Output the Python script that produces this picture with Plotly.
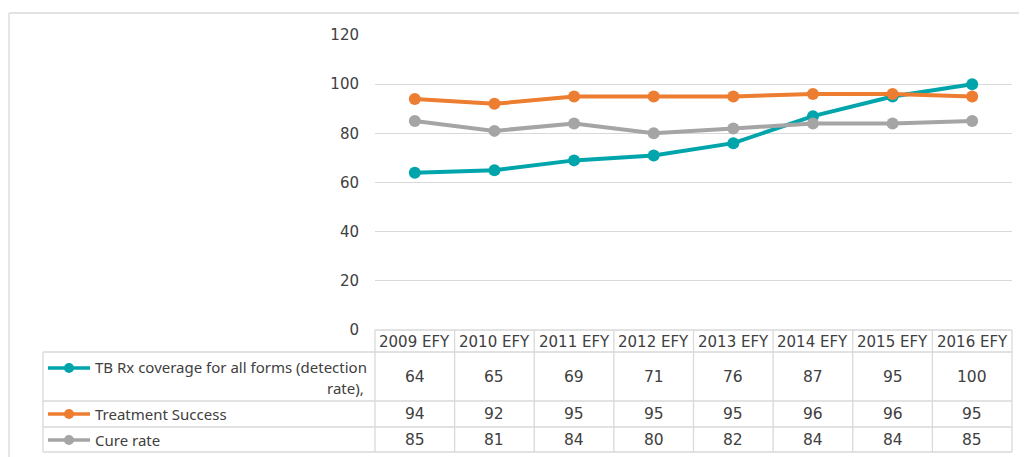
import plotly.graph_objects as go

categories = ["2009 EFY", "2010 EFY", "2011 EFY", "2012 EFY", "2013 EFY", "2014 EFY", "2015 EFY", "2016 EFY"]
detection = [64, 65, 69, 71, 76, 87, 95, 100]
success = [94, 92, 95, 95, 95, 96, 96, 95]
cure = [85, 81, 84, 80, 82, 84, 84, 85]
series_names = ["TB Rx coverage for all forms (detection rate),", "Treatment Success", "Cure rate"]
series_values = [detection, success, cure]
colors = ["#00A5AC", "#ED7D31", "#A5A5A5"]
y_ticks = [0, 20, 40, 60, 80, 100, 120]

OFF = 8  # page body margin
W, H = 1027 - OFF, 457 - OFF
L, R, T, B = 375, 1012, 35, 330  # in screenshot pixels
PW, PH = R - L, B - T

def px(x):
    return (x - L) / PW

def py(y):
    return (B - y) / PH

GRID = "#D9D9D9"
TXT = "#404040"
FONT = "DejaVu Sans"

fig = go.Figure()
for name, vals, c in zip(series_names, series_values, colors):
    fig.add_trace(go.Scatter(
        x=categories, y=vals, mode="lines+markers", name=name,
        line=dict(color=c, width=4), marker=dict(color=c, size=12),
        showlegend=False, cliponaxis=False,
    ))

shapes = []
anns = []

def hline(x0, x1, y):
    shapes.append(dict(type="line", xref="paper", yref="paper", x0=px(x0), x1=px(x1),
                       y0=py(y), y1=py(y), line=dict(color=GRID, width=1.3), layer="below"))

def vline(x, y0, y1):
    shapes.append(dict(type="line", xref="paper", yref="paper", x0=px(x), x1=px(x),
                       y0=py(y0), y1=py(y1), line=dict(color=GRID, width=1.3), layer="below"))

# outer chart frame
hline(9, 1030, 13)
vline(9, 13, 460)

# table grid
row_edges = [330, 352, 401, 427, 452]
hline(L, R, 330)
for y in row_edges[1:]:
    hline(43, R, y)
n = len(categories)
col_w = PW / n
for i in range(n + 1):
    vline(L + i * col_w, 330, 452)
vline(43, 352, 452)

# header labels
for i, cat in enumerate(categories):
    anns.append(dict(xref="paper", yref="paper", x=px(L + (i + 0.5) * col_w), y=py(341.5),
                     text=cat, showarrow=False, xanchor="center", yanchor="middle",
                     font=dict(size=15, color=TXT, family=FONT)))

# table values
row_centers = [377, 414, 440]
for r, vals in enumerate(series_values):
    for i, v in enumerate(vals):
        anns.append(dict(xref="paper", yref="paper", x=px(L + (i + 0.5) * col_w), y=py(row_centers[r]),
                         text=str(v), showarrow=False, xanchor="center", yanchor="middle",
                         font=dict(size=15.5, color=TXT, family=FONT)))

# legend keys
key_y = [368, 414, 440]
for r, c in enumerate(colors):
    y = key_y[r]
    shapes.append(dict(type="line", xref="paper", yref="paper", x0=px(48), x1=px(90),
                       y0=py(y), y1=py(y), line=dict(color=c, width=3.5)))
    shapes.append(dict(type="circle", xref="paper", yref="paper", x0=px(64), x1=px(74),
                       y0=py(y + 5), y1=py(y - 5), fillcolor=c, line=dict(color=c, width=0)))

label_font = dict(size=15, color=TXT, family="Noto Sans")
first, second = series_names[0].rsplit(" ", 1)
anns.append(dict(xref="paper", yref="paper", x=px(93), y=py(367), text=first, showarrow=False,
                 xanchor="left", yanchor="middle", font=label_font))
anns.append(dict(xref="paper", yref="paper", x=px(366), y=py(388), text=second, showarrow=False,
                 xanchor="right", yanchor="middle", font=label_font))
anns.append(dict(xref="paper", yref="paper", x=px(93), y=py(414), text=series_names[1], showarrow=False,
                 xanchor="left", yanchor="middle", font=label_font))
anns.append(dict(xref="paper", yref="paper", x=px(93), y=py(440), text=series_names[2], showarrow=False,
                 xanchor="left", yanchor="middle", font=label_font))

fig.update_layout(
    width=W, height=H,
    margin=dict(l=L - OFF, r=W + OFF - R, t=T - OFF, b=H + OFF - B, pad=0),
    paper_bgcolor="white", plot_bgcolor="white",
    shapes=shapes, annotations=anns,
    xaxis=dict(type="category", range=[-0.5, n - 0.5], showgrid=False, showticklabels=False,
               zeroline=False, showline=False, ticks=""),
    yaxis=dict(range=[0, 120], tickvals=y_ticks, showgrid=True, gridcolor=GRID, gridwidth=1.3,
               zeroline=False, showline=False, ticks="", ticklabelstandoff=15,
               tickfont=dict(size=15, color=TXT, family=FONT)),
)
fig.write_html("out.html")
